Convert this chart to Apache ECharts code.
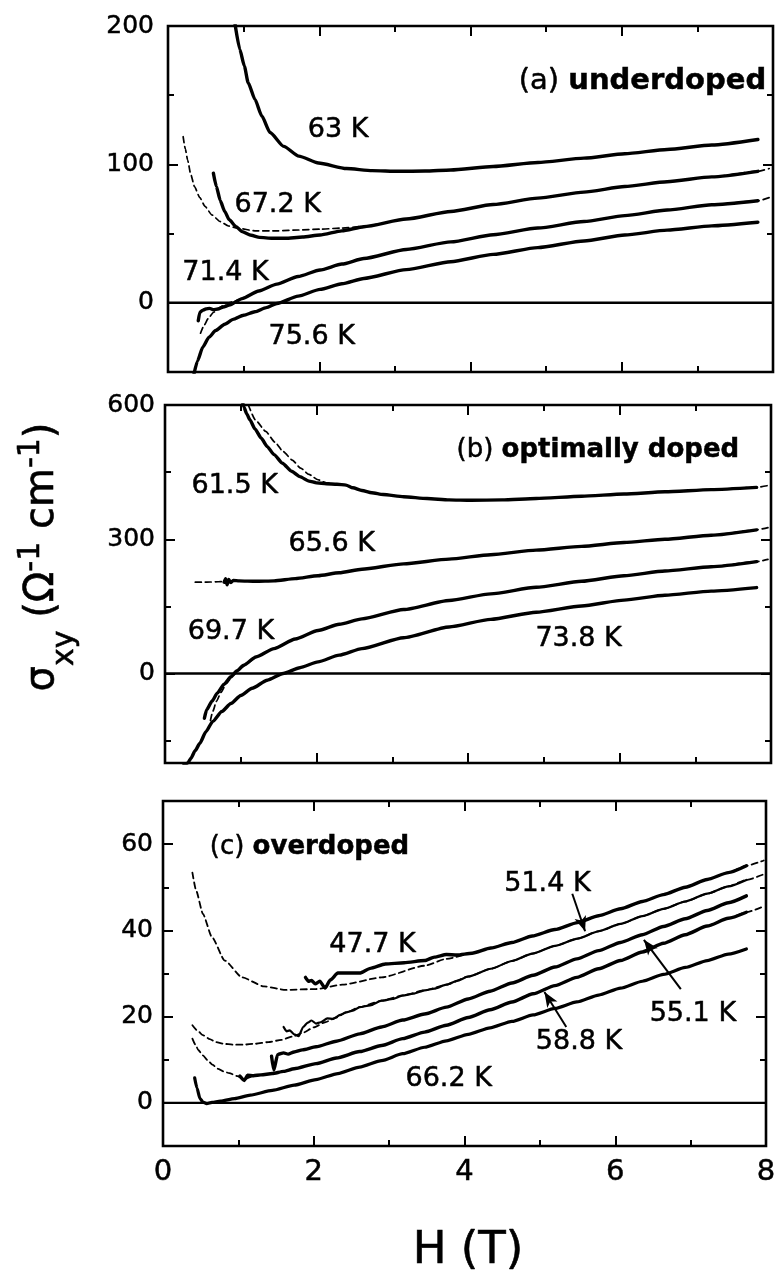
<!DOCTYPE html>
<html>
<head>
<meta charset="utf-8">
<script src="https://cdn.jsdelivr.net/npm/echarts@6/dist/echarts.min.js"></script>
<style>
  html, body { margin: 0; padding: 0; background: #fff; }
  #chart { width: 779px; height: 1278px; }
</style>
</head>
<body>
<div id="chart"></div>
<script>
// Hall conductivity sigma_xy (Ω^-1 cm^-1) versus field H (T), three dopings.
// Solid: measured curves; dashed: fitted curves.

// ---------- tick values ----------
const fieldTicks = [0, 2, 4, 6, 8];
const yMajorA = [0, 100, 200];
const yMinorA = [50, 150];
const yMajorB = [0, 300, 600];
const yMinorB = [-150, 150, 450];
const yMajorC = [0, 20, 40, 60];
const yMinorC = [10, 30, 50];

// ---------- (a) underdoped ----------
const a63K = [[0.885,202],[0.95,183],[1.01,171],[1.06,159],[1.15,147],[1.24,135],[1.35,123],[1.53,113],[1.73,106],[1.99,101],[2.36,97],[2.7,95.5],[3.05,95],[3.4,95.2],[3.74,96],[4.3,98.5],[4.89,101.4],[5.5,104.5],[6.04,107.7],[6.6,110.8],[7.19,114],[7.8,118]];
const a67K = [[0.6,93.7],[0.64,84],[0.69,74],[0.75,66],[0.81,60],[0.9,55],[0.98,51.4],[1.1,48.8],[1.21,47.3],[1.38,46.6],[1.55,46.6],[1.78,47.5],[2.01,49],[2.3,52],[2.59,55],[3.15,60.5],[3.74,66],[4.3,71],[4.89,75.6],[5.5,80],[6.04,84],[6.6,87.5],[7.19,91],[7.8,95]];
const a67Kfit = [[0.2,120],[0.23,111],[0.26,103],[0.3,93],[0.35,84],[0.42,76],[0.49,69.6],[0.58,63.5],[0.69,58.7],[0.8,55.5],[0.92,53.9],[1.15,52],[1.45,52],[1.73,52.6],[2.01,53.2],[2.3,54],[2.59,55.2],[3.15,60.5],[3.74,66],[4.3,71],[4.89,75.6],[5.5,80],[6.04,84],[6.6,87.5],[7.19,91],[7.8,95],[7.95,97]];
const a71K = [[0.4,-13],[0.42,-7],[0.46,-5.3],[0.5,-4.5],[0.55,-4],[0.6,-5],[0.66,-4.5],[0.73,-3],[0.81,-1.7],[0.98,3],[1.2,8.5],[1.44,13.5],[1.72,19],[2.01,23.7],[2.3,28],[2.59,32],[3.15,38.5],[3.74,44],[4.3,49.2],[4.89,54],[5.5,58.7],[6.04,63],[6.6,67],[7.19,70.8],[7.8,73.7]];
const a71Kfit = [[0.43,-22],[0.48,-16],[0.53,-11.5],[0.6,-7],[0.68,-3.5],[0.78,-0.5],[0.88,1.2],[0.98,3],[1.2,8.5],[1.44,13.5],[1.72,19],[2.01,23.7],[2.3,28],[2.59,32],[3.15,38.5],[3.74,44],[4.3,49.2],[4.89,54],[5.5,58.7],[6.04,63],[6.6,67],[7.19,70.8],[7.8,73.7],[7.95,76]];
const a75K = [[0.33,-55],[0.39,-42],[0.46,-32],[0.54,-25],[0.63,-20],[0.75,-15.5],[0.86,-12],[1.0,-9],[1.15,-6.5],[1.3,-3.5],[1.44,-0.5],[1.72,4.8],[2.01,9.7],[2.3,13.8],[2.59,17.6],[3.15,24],[3.74,29.7],[4.3,35],[4.89,39.9],[5.5,44.7],[6.04,49],[6.6,52.5],[7.19,55.6],[7.8,58.2]];

// ---------- (b) optimally doped ----------
const b61K = [[1.02,610],[1.04,596],[1.08,580],[1.12,567],[1.19,546],[1.27,526],[1.35,507],[1.44,489],[1.55,470],[1.67,452],[1.78,440],[1.9,430],[2.0,426],[2.13,424],[2.27,423],[2.39,421],[2.48,415],[2.6,409],[2.73,404],[2.88,400],[3.15,395],[3.46,391],[3.75,388],[4.04,387],[4.45,388],[4.9,391],[5.5,396],[6.06,401],[6.6,406],[7.21,411],[7.81,416]];
const b61Kfit = [[1.1,600],[1.2,565],[1.33,541],[1.45,517],[1.56,496],[1.68,477],[1.79,459],[1.9,445],[2.02,433],[2.13,426],[2.27,423],[2.39,421],[2.48,415],[2.6,409],[2.73,404],[2.88,400],[3.15,395],[3.46,391],[3.75,388],[4.04,387],[4.45,388],[4.9,391],[5.5,396],[6.06,401],[6.6,406],[7.21,411],[7.81,416],[7.96,420]];
const b65K = [[0.78,204],[0.8,212],[0.82,198],[0.84,210],[0.87,203],[0.9,208],[0.98,207],[1.2,206],[1.44,207],[1.72,212],[2.02,218.5],[2.3,225],[2.6,233],[3.15,245],[3.75,255.6],[4.3,265.5],[4.9,275.6],[5.5,284],[6.06,292.6],[6.6,300],[7.21,309],[7.81,321]];
const b65Kfit = [[0.4,204],[0.5,204],[0.6,204.5],[0.7,205],[0.78,205.5],[0.98,207],[1.2,206],[1.44,207],[1.72,212],[2.02,218.5],[2.3,225],[2.6,233],[3.15,245],[3.75,255.6],[4.3,265.5],[4.9,275.6],[5.5,284],[6.06,292.6],[6.6,300],[7.21,309],[7.81,321],[7.96,326]];
const b69K = [[0.52,-100],[0.55,-81],[0.62,-62],[0.69,-44],[0.78,-24],[0.87,-7.4],[0.95,6],[1.04,18.5],[1.2,37],[1.44,55.6],[1.72,77],[2.02,96],[2.3,110],[2.6,122],[3.15,143],[3.75,163],[4.3,178],[4.9,192.6],[5.5,206],[6.06,218.5],[6.6,229],[7.21,238.5],[7.81,250]];
const b69Kfit = [[0.6,-105],[0.63,-85],[0.68,-62],[0.74,-42],[0.81,-22],[0.9,-4],[1.0,12],[1.1,24],[1.2,37],[1.44,55.6],[1.72,77],[2.02,96],[2.3,110],[2.6,122],[3.15,143],[3.75,163],[4.3,178],[4.9,192.6],[5.5,206],[6.06,218.5],[6.6,229],[7.21,238.5],[7.81,250],[7.96,255]];
const b73K = [[0.25,-205],[0.3,-200],[0.34,-190],[0.4,-172],[0.46,-156],[0.54,-130],[0.63,-107],[0.75,-85],[0.87,-67],[1.0,-49],[1.15,-33],[1.35,-15],[1.56,0],[1.78,13],[2.02,26],[2.3,41],[2.6,55.6],[3.15,80],[3.75,104],[4.3,121],[4.9,137],[5.5,151],[6.06,164],[6.6,175],[7.21,184],[7.81,192]];

// ---------- (c) overdoped ----------
const c47K = [[1.89,29.1],[1.93,28.2],[1.97,28.4],[2.02,27.6],[2.08,28.2],[2.15,26.6],[2.22,28.5],[2.32,30.1],[2.45,30.1],[2.61,30.1],[2.75,31.2],[2.95,32.2],[3.2,32.5],[3.47,33],[3.6,33.8],[3.76,34.4],[3.9,34.3],[4.1,34.7],[4.35,35.9],[4.63,37.2],[4.9,38.7],[5.2,40.2],[5.5,41.8],[5.78,43.4],[6.07,45],[6.36,46.7],[6.64,48.3],[6.93,50],[7.22,51.8],[7.5,53.4],[7.74,55]];
const c47Kfit = [[0.39,53.4],[0.44,49.2],[0.53,43.8],[0.65,38.4],[0.82,33],[1.05,29.1],[1.34,27],[1.63,26.2],[2.03,26.4],[2.38,27.4],[2.9,29.1],[3.47,31.8],[3.76,33.4],[4.1,34.7],[4.35,35.9],[4.63,37.2],[4.9,38.7],[5.2,40.2],[5.5,41.8],[5.78,43.4],[6.07,45],[6.36,46.7],[6.64,48.3],[6.93,50],[7.22,51.8],[7.5,53.4],[7.74,55],[7.97,56.2]];
const c51K = [[1.6,17.6],[1.64,16.6],[1.68,16.8],[1.74,15.9],[1.8,15.5],[1.86,17.6],[1.92,18.6],[1.97,19.1],[2.03,18.4],[2.09,18.7],[2.18,19.6],[2.26,19.5],[2.35,20.4],[2.43,21],[2.52,21.4],[2.61,22.2],[2.75,22.6],[2.9,23.7],[3.05,24.1],[3.18,24.9],[3.32,25.3],[3.47,26.1],[3.6,26.5],[3.76,27.4],[3.9,28.3],[4.05,29.3],[4.35,31.1],[4.63,32.9],[4.9,34.6],[5.2,36.4],[5.5,38.1],[5.78,39.8],[6.07,41.5],[6.36,43.3],[6.64,45],[6.93,46.7],[7.22,48.5],[7.5,50.2],[7.74,51.7]];
const c51Kfit = [[0.39,18],[0.46,16.7],[0.53,15.7],[0.62,14.8],[0.7,14.1],[0.8,13.7],[0.93,13.5],[1.07,13.5],[1.22,13.7],[1.4,14.1],[1.57,14.6],[1.72,15.4],[1.86,16.3],[2.0,17.5],[2.15,18.7],[2.3,19.8],[2.43,21],[2.61,22.2],[2.9,23.7],[3.18,24.9],[3.47,26.1],[3.76,27.4],[4.05,29.3],[4.35,31.1],[4.63,32.9],[4.9,34.6],[5.2,36.4],[5.5,38.1],[5.78,39.8],[6.07,41.5],[6.36,43.3],[6.64,45],[6.93,46.7],[7.22,48.5],[7.5,50.2],[7.74,51.7],[7.97,53]];
const c55K = [[1.44,10.8],[1.47,7.6],[1.52,11.2],[1.6,11.6],[1.66,11.3],[1.74,11.8],[1.85,12.3],[2.03,13],[2.3,14.3],[2.61,16],[2.9,17.6],[3.18,19.2],[3.47,20.6],[3.76,22.2],[4.05,24.1],[4.34,25.9],[4.63,27.8],[4.91,29.6],[5.2,31.5],[5.49,33.4],[5.78,35.3],[6.07,37.2],[6.36,39],[6.64,40.9],[6.93,42.7],[7.22,44.6],[7.5,46.4],[7.74,48]];
const c58K = [[1.02,6.2],[1.08,5.2],[1.12,6.4],[1.2,6.3],[1.3,6.5],[1.45,6.8],[1.6,7.3],[1.74,7.9],[2.03,9.1],[2.3,10.4],[2.61,11.9],[2.9,13.3],[3.18,14.9],[3.47,16.4],[3.76,18],[4.05,19.8],[4.34,21.6],[4.63,23.4],[4.91,25.3],[5.2,27.2],[5.49,29.1],[5.78,31.1],[6.07,33],[6.36,35],[6.64,37],[6.93,39],[7.22,41],[7.5,42.8],[7.74,44.2]];
const c58Kfit = [[0.39,14.9],[0.43,13.5],[0.47,12.2],[0.53,11],[0.59,9.9],[0.66,8.8],[0.73,7.9],[0.8,7.3],[0.88,6.9],[0.99,6.2],[1.08,5.4],[1.15,5.9],[1.2,6.3],[1.3,6.5],[1.45,6.8],[1.6,7.3],[1.74,7.9],[2.03,9.1],[2.3,10.4],[2.61,11.9],[2.9,13.3],[3.18,14.9],[3.47,16.4],[3.76,18],[4.05,19.8],[4.34,21.6],[4.63,23.4],[4.91,25.3],[5.2,27.2],[5.49,29.1],[5.78,31.1],[6.07,33],[6.36,35],[6.64,37],[6.93,39],[7.22,41],[7.5,42.8],[7.74,44.2],[7.97,45.6]];
const c66K = [[0.42,5.8],[0.45,3.5],[0.49,1],[0.53,0.2],[0.58,-0.2],[0.65,0.1],[0.76,0.4],[0.95,1],[1.16,1.8],[1.45,2.9],[1.74,4.1],[2.03,5.4],[2.32,6.8],[2.61,8.3],[2.9,9.8],[3.18,11.4],[3.47,12.9],[3.76,14.4],[4.05,15.9],[4.34,17.4],[4.63,18.9],[4.91,20.4],[5.2,21.9],[5.49,23.4],[5.78,25],[6.07,26.6],[6.36,28.2],[6.64,29.8],[6.93,31.4],[7.22,33],[7.5,34.5],[7.74,35.7]];

const zeroLine = [[0, 0], [8, 0]];

// curve labels: [text, H, sigma]
const labelsA = [['63 K', 2.25, 125], ['67.2 K', 1.45, 70.8], ['71.4 K', 0.76, 21.3], ['75.6 K', 1.9, -24.6]];
const labelsB = [['61.5 K', 0.92, 418], ['65.6 K', 2.2, 289], ['69.7 K', 0.87, 92.6], ['73.8 K', 5.46, 77.8]];
const labelsC = [['47.7 K', 2.78, 36.5], ['51.4 K', 5.1, 50.7], ['55.1 K', 7.03, 20.7], ['58.8 K', 5.52, 14.1], ['66.2 K', 3.79, 5.6]];
// pointer arrows in (c): [from, to]
const arrowsC = [[[5.43, 48.5], [5.6, 39.8]], [[6.87, 26.4], [6.38, 37.8]], [[5.35, 17.6], [5.06, 25.7]]];

const FONT = 'DejaVu Sans';
const BLACK = '#000';

const grids = [
  { left: 168, top: 26, width: 605, height: 346 },
  { left: 165, top: 405, width: 606, height: 358 },
  { left: 163, top: 801, width: 603, height: 345 }
];
const yRanges = [[-50, 200], [-200, 600], [-10, 70]];
const yMajor = [yMajorA, yMajorB, yMajorC];
const yMinor = [yMinorA, yMinorB, yMinorC];
const yLabelMargin = [14, 10, 10];

const tickLine = { color: BLACK, width: 2 };
const textInk = { textBorderColor: BLACK, textBorderWidth: 0.5 };
const noLine = { show: false, onZero: false };

const xAxes = [];
const yAxes = [];
grids.forEach((g, i) => {
  ['bottom', 'top'].forEach(pos => {
    xAxes.push({
      gridIndex: i, type: 'value', min: 0, max: 8, interval: 2, position: pos,
      axisLine: noLine, splitLine: { show: false },
      axisTick: { inside: true, length: 10, lineStyle: tickLine },
      minorTick: { show: true, splitNumber: 2, length: 6, lineStyle: tickLine },
      axisLabel: Object.assign({
        show: i === 2 && pos === 'bottom', margin: 12, color: BLACK,
        fontFamily: FONT, fontSize: 29,
        formatter: v => (fieldTicks.indexOf(v) >= 0 ? String(v) : '')
      }, textInk)
    });
  });
  ['left', 'right'].forEach(pos => {
    const base = {
      gridIndex: i, type: 'value', min: yRanges[i][0], max: yRanges[i][1], position: pos,
      axisLine: noLine, splitLine: { show: false }
    };
    yAxes.push(Object.assign({}, base, {
      axisTick: { inside: true, length: 10, customValues: yMajor[i], lineStyle: tickLine },
      axisLabel: Object.assign({
        show: pos === 'left', customValues: yMajor[i], margin: yLabelMargin[i],
        color: BLACK, fontFamily: FONT, fontSize: 25
      }, textInk)
    }));
    yAxes.push(Object.assign({}, base, {
      axisTick: { inside: true, length: 6, customValues: yMinor[i], lineStyle: tickLine },
      axisLabel: { show: false, customValues: yMinor[i] }
    }));
  });
});

function curve(panel, data, opt) {
  opt = opt || {};
  return {
    type: 'line', xAxisIndex: panel * 2, yAxisIndex: panel * 4, data: data,
    symbol: 'none', showSymbol: false, smooth: 0.2, smoothMonotone: 'x',
    silent: true, animation: false, z: opt.dash ? 2 : 3,
    lineStyle: { color: BLACK, width: opt.width || 3.4, type: opt.dash ? [6, 4] : 'solid', cap: 'round', join: 'round' }
  };
}
function zero(panel) {
  return {
    type: 'line', xAxisIndex: panel * 2, yAxisIndex: panel * 4, data: zeroLine,
    symbol: 'none', silent: true, animation: false, z: 1,
    lineStyle: { color: BLACK, width: 2.4 }
  };
}
function labels(panel, list, size) {
  return {
    type: 'scatter', xAxisIndex: panel * 2, yAxisIndex: panel * 4,
    data: list.map(l => ({ name: l[0], value: [l[1], l[2]] })),
    symbolSize: 0, itemStyle: { color: BLACK, opacity: 1 }, silent: true, animation: false, z: 6,
    label: Object.assign({
      show: true, position: 'inside', formatter: p => p.name, opacity: 1,
      color: BLACK, fontFamily: FONT, fontSize: size || 27
    }, textInk)
  };
}
function panelTitle(panel, tag, word, h, s, align, size) {
  return {
    type: 'scatter', xAxisIndex: panel * 2, yAxisIndex: panel * 4,
    data: [{ name: word, value: [h, s] }],
    symbolSize: 0, itemStyle: { color: BLACK, opacity: 1 }, silent: true, animation: false, z: 6,
    label: {
      show: true, position: 'inside', align: align, verticalAlign: 'middle', opacity: 1,
      color: BLACK,
      formatter: '{r|' + tag + ' }{b|' + word + '}',
      rich: {
        r: Object.assign({ fontFamily: FONT, fontSize: size, color: BLACK }, textInk),
        b: Object.assign({ fontFamily: FONT, fontSize: size, fontWeight: 'bold', color: BLACK }, textInk)
      }
    }
  };
}

const series = [
  zero(0), zero(1), zero(2),
  curve(0, a67Kfit, { dash: true, width: 1.7 }),
  curve(0, a71Kfit, { dash: true, width: 1.7 }),
  curve(0, a63K), curve(0, a67K), curve(0, a71K), curve(0, a75K),
  curve(1, b61Kfit, { dash: true, width: 1.7 }),
  curve(1, b65Kfit, { dash: true, width: 1.7 }),
  curve(1, b69Kfit, { dash: true, width: 1.7 }),
  curve(1, b61K), curve(1, b65K), curve(1, b69K), curve(1, b73K),
  curve(2, c47Kfit, { dash: true, width: 1.8 }),
  curve(2, c51Kfit, { dash: true, width: 1.8 }),
  curve(2, c58Kfit, { dash: true, width: 1.8 }),
  curve(2, c47K, { width: 3.4 }),
  curve(2, c51K, { width: 2.2 }),
  curve(2, c55K, { width: 3.4 }),
  curve(2, c58K, { width: 3.4 }),
  curve(2, c66K, { width: 3.2 }),
  {
    type: 'line', xAxisIndex: 4, yAxisIndex: 8, data: [], silent: true, animation: false,
    markLine: {
      silent: true, animation: false, symbol: ['none', 'arrow'], symbolSize: [9, 15],
      label: { show: false },
      lineStyle: { color: BLACK, width: 2, type: 'solid' },
      data: arrowsC.map(a => [{ coord: a[0] }, { coord: a[1] }])
    }
  },
  labels(0, labelsA), labels(1, labelsB), labels(2, labelsC),
  panelTitle(0, '(a)', 'underdoped', 7.91, 160, 'right', 29),
  panelTitle(1, '(b)', 'optimally doped', 7.58, 500, 'right', 26),
  panelTitle(2, '(c)', 'overdoped', 0.62, 59.2, 'left', 26)
];

const chart = echarts.init(document.getElementById('chart'), null, { renderer: 'canvas' });
chart.setOption({
  animation: false,
  backgroundColor: '#fff',
  grid: grids.map(g => Object.assign({ show: true, borderColor: BLACK, borderWidth: 2.6, backgroundColor: 'transparent' }, g)),
  xAxis: xAxes,
  yAxis: yAxes,
  series: series,
  graphic: [
    {
      type: 'text', x: 43, y: 557, rotation: Math.PI / 2, silent: true,
      style: {
        text: '{m|σ}{s|xy}{m| (Ω}{p|-1}{m| cm}{p|-1}{m|)}',
        align: 'center', verticalAlign: 'middle', fill: BLACK,
        rich: {
          m: { fontFamily: FONT, fontSize: 40, fill: BLACK, stroke: BLACK, lineWidth: 0.6 },
          s: { fontFamily: FONT, fontSize: 30, fill: BLACK, stroke: BLACK, lineWidth: 0.6, padding: [44, 0, 0, 0] },
          p: { fontFamily: FONT, fontSize: 30, fill: BLACK, stroke: BLACK, lineWidth: 0.6, padding: [0, 0, 24, 0] }
        }
      }
    },
    {
      type: 'text', x: 468, y: 1251, silent: true,
      style: { text: 'H (T)', fontFamily: FONT, fontSize: 45, fill: BLACK, stroke: BLACK, lineWidth: 0.6, align: 'center', verticalAlign: 'middle' }
    }
  ]
});
</script>
</body>
</html>
